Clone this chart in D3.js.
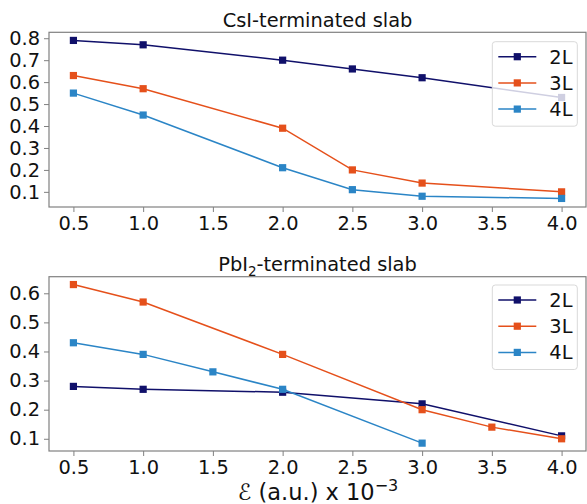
<!DOCTYPE html>
<html>
<head>
<meta charset="utf-8">
<script src="https://cdn.jsdelivr.net/npm/d3@7"></script>
<style>
  body { margin: 0; background: #fff; }
  svg { display: block; font-family: "DejaVu Sans", sans-serif; }
</style>
</head>
<body>
<svg id="chart" width="587" height="504"></svg>
<script>
// ---- data ----
const seriesNames = ["2L", "3L", "4L"];
const seriesColors = ["#10106a", "#e5501b", "#2b85c6"];

const csiX = [0.5, 1.0, 2.0, 2.5, 3.0, 4.0];
const csi2L = [0.79, 0.77, 0.70, 0.66, 0.62, 0.53];
const csi3L = [0.63, 0.57, 0.39, 0.20, 0.14, 0.10];
const csi4L = [0.55, 0.45, 0.21, 0.11, 0.08, 0.07];

const pbi2LX = [0.5, 1.0, 2.0, 3.0, 4.0];
const pbi2L = [0.28, 0.27, 0.26, 0.22, 0.11];
const pbi3LX = [0.5, 1.0, 2.0, 3.0, 3.5, 4.0];
const pbi3L = [0.63, 0.57, 0.39, 0.20, 0.14, 0.10];
const pbi4LX = [0.5, 1.0, 1.5, 2.0, 3.0];
const pbi4L = [0.43, 0.39, 0.33, 0.27, 0.085];

const xTicks = [0.5, 1.0, 1.5, 2.0, 2.5, 3.0, 3.5, 4.0];
const csiYTicks = [0.1, 0.2, 0.3, 0.4, 0.5, 0.6, 0.7, 0.8];
const pbiYTicks = [0.1, 0.2, 0.3, 0.4, 0.5, 0.6];
const xLimits = [0.325, 4.175];
const csiYLimits = [0.031, 0.827];
const pbiYLimits = [0.058, 0.657];

// ---- layout ----
const svg = d3.select("#chart");
const left = 49, right = 586;
const fs = 19.4;
const panels = [
  { top: 32.3, bottom: 207, yTicks: csiYTicks, yLim: csiYLimits, title: "csi",
    series: [
      { x: csiX, y: csi2L }, { x: csiX, y: csi3L }, { x: csiX, y: csi4L }
    ] },
  { top: 276.7, bottom: 451, yTicks: pbiYTicks, yLim: pbiYLimits, title: "pbi",
    series: [
      { x: pbi2LX, y: pbi2L }, { x: pbi3LX, y: pbi3L }, { x: pbi4LX, y: pbi4L }
    ] }
];

const spineColor = "#808080";
const textColor = "#111";

panels.forEach(p => {
  const x = d3.scaleLinear().domain(xLimits).range([left, right]);
  const y = d3.scaleLinear().domain(p.yLim).range([p.bottom, p.top]);
  const g = svg.append("g");

  // title
  const t = g.append("text")
    .attr("x", (left + right) / 2)
    .attr("y", p.top - 5.5)
    .attr("text-anchor", "middle")
    .attr("font-size", fs)
    .attr("fill", textColor);
  if (p.title === "csi") {
    t.text("CsI-terminated slab");
  } else {
    t.append("tspan").text("PbI");
    t.append("tspan").attr("font-size", 13.5).attr("dy", 4.5).text("2");
    t.append("tspan").attr("dy", -4.5).text("-terminated slab");
  }

  // axes
  const xAxis = d3.axisBottom(x).tickValues(xTicks).tickFormat(d => d.toFixed(1))
    .tickSize(5).tickPadding(4).tickSizeOuter(0);
  const yAxis = d3.axisLeft(y).tickValues(p.yTicks).tickFormat(d => d.toFixed(1))
    .tickSize(5).tickPadding(4).tickSizeOuter(0);

  const gx = g.append("g").attr("transform", `translate(0,${p.bottom})`).call(xAxis);
  const gy = g.append("g").attr("transform", `translate(${left},0)`).call(yAxis);
  [gx, gy].forEach(a => {
    a.attr("font-size", fs).attr("font-family", "DejaVu Sans");
    a.select(".domain").remove();
    a.selectAll(".tick line").attr("stroke", spineColor).attr("stroke-width", 1);
    a.selectAll(".tick text").attr("font-size", fs).attr("fill", textColor);
  });

  // frame
  g.append("rect")
    .attr("x", left).attr("y", p.top)
    .attr("width", right - left).attr("height", p.bottom - p.top)
    .attr("fill", "none").attr("stroke", spineColor).attr("stroke-width", 1.2);

  // lines & markers
  const line = d3.line().x(d => x(d[0])).y(d => y(d[1]));
  p.series.forEach((s, i) => {
    const pts = s.x.map((xv, k) => [xv, s.y[k]]);
    g.append("path").attr("d", line(pts)).attr("fill", "none")
      .attr("stroke", seriesColors[i]).attr("stroke-width", 1.5);
    g.selectAll(null).data(pts).enter().append("rect")
      .attr("x", d => x(d[0]) - 3.6).attr("y", d => y(d[1]) - 3.6)
      .attr("width", 7.2).attr("height", 7.2)
      .attr("fill", seriesColors[i]);
  });

  // legend
  const lx = 492.3, ly = p.top + (p.title === "csi" ? 9.4 : 8.3);
  const lg = g.append("g");
  lg.append("rect").attr("x", lx).attr("y", ly).attr("width", 85).attr("height", 84.5)
    .attr("rx", 3).attr("fill", "#fff").attr("fill-opacity", 0.8)
    .attr("stroke", "#d9d9d9").attr("stroke-width", 1);
  seriesNames.forEach((name, i) => {
    const yy = ly + 15 + i * 26.2;
    lg.append("line").attr("x1", lx + 6).attr("x2", lx + 44).attr("y1", yy).attr("y2", yy)
      .attr("stroke", seriesColors[i]).attr("stroke-width", 1.5);
    lg.append("rect").attr("x", lx + 25 - 3.6).attr("y", yy - 3.6)
      .attr("width", 7.2).attr("height", 7.2).attr("fill", seriesColors[i]);
    lg.append("text").attr("x", lx + 57).attr("y", yy + 7)
      .attr("font-size", fs).attr("fill", textColor).text(name);
  });
});

// x label
const xl = svg.append("text")
  .attr("x", 318).attr("y", 500)
  .attr("text-anchor", "middle")
  .attr("font-size", 22.5)
  .attr("fill", textColor);
xl.append("tspan").text("ℰ");
xl.append("tspan").text(" (a.u.) x 10");
xl.append("tspan").attr("font-size", 16).attr("dy", -9).text("−3");
</script>
</body>
</html>
